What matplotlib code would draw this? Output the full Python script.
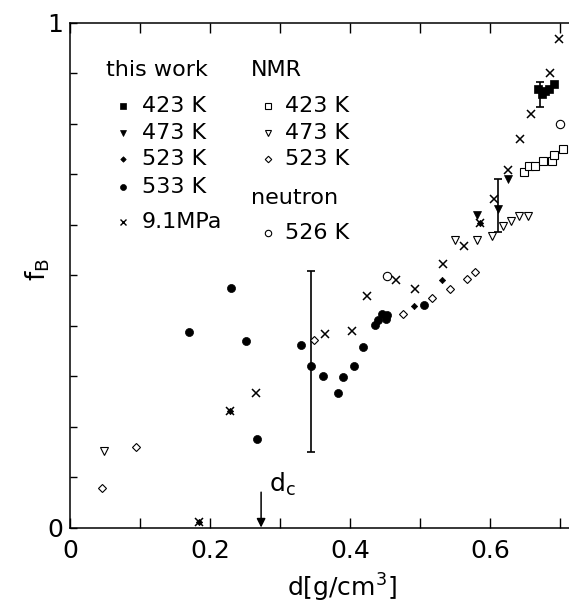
import matplotlib
matplotlib.use("Agg")
import matplotlib.pyplot as plt
import numpy as np

plt.rcParams['font.family'] = ['DejaVu Sans']
plt.rcParams['mathtext.fontset'] = 'dejavusans'

# ---------------- data ----------------
this_423_x = [0.669, 0.674, 0.679, 0.684, 0.691]
this_423_y = [0.869, 0.859, 0.865, 0.869, 0.879]
this_473_x = [0.582, 0.612, 0.626]
this_473_y = [0.619, 0.631, 0.691]
this_523_x = [0.184, 0.228, 0.492, 0.531, 0.586]
this_523_y = [0.010, 0.230, 0.439, 0.491, 0.604]
this_533_x = [0.170, 0.230, 0.252, 0.267, 0.330, 0.344, 0.361, 0.383, 0.390,
              0.406, 0.418, 0.435, 0.440, 0.445, 0.452, 0.453, 0.505]
this_533_y = [0.388, 0.474, 0.370, 0.175, 0.362, 0.321, 0.301, 0.267, 0.298,
              0.320, 0.357, 0.401, 0.411, 0.423, 0.413, 0.421, 0.442]
mpa_x = [0.184, 0.228, 0.265, 0.364, 0.403, 0.424, 0.465, 0.493, 0.533, 0.563,
         0.586, 0.606, 0.625, 0.643, 0.658, 0.685, 0.699]
mpa_y = [0.010, 0.230, 0.267, 0.384, 0.390, 0.459, 0.491, 0.472, 0.522, 0.558,
         0.604, 0.651, 0.709, 0.771, 0.819, 0.901, 0.968]
nmr_423_x = [0.649, 0.656, 0.664, 0.676, 0.688, 0.691, 0.704]
nmr_423_y = [0.705, 0.717, 0.717, 0.727, 0.727, 0.738, 0.750]
nmr_473_x = [0.049, 0.550, 0.581, 0.603, 0.619, 0.630, 0.641, 0.654]
nmr_473_y = [0.152, 0.570, 0.570, 0.578, 0.598, 0.607, 0.617, 0.617]
nmr_523_x = [0.046, 0.094, 0.349, 0.476, 0.517, 0.543, 0.567, 0.579]
nmr_523_y = [0.078, 0.160, 0.372, 0.423, 0.454, 0.473, 0.493, 0.506]
neutron_x = [0.453, 0.700]
neutron_y = [0.499, 0.799]

err_x = [0.344, 0.612, 0.672]
err_lo = [0.150, 0.586, 0.833]
err_hi = [0.508, 0.691, 0.884]

d_c = 0.273

x_ticks = [0.0, 0.1, 0.2, 0.3, 0.4, 0.5, 0.6, 0.7]
x_ticklabels = ['0', '', '0.2', '', '0.4', '', '0.6', '']
y_ticks = [0.0, 0.1, 0.2, 0.3, 0.4, 0.5, 0.6, 0.7, 0.8, 0.9, 1.0]
y_ticklabels = ['0', '', '', '', '', '', '', '', '', '', '1']

# ---------------- figure ----------------
W, H = 569, 604
fig = plt.figure(figsize=(W / 100, H / 100), dpi=100)
ax_l, ax_r, ax_t, ax_b = 70, 569, 23, 527.5
ax = fig.add_axes([ax_l / W, (H - ax_b) / H, (ax_r - ax_l) / W, (ax_b - ax_t) / H])
ax.set_xlim(0, (ax_r - ax_l) / 700)
ax.set_ylim(0, 1)

lw = 0.8
# error bars
err_c = [(a + b) / 2 for a, b in zip(err_lo, err_hi)]
err_h = [(b - a) / 2 for a, b in zip(err_lo, err_hi)]
ax.errorbar(err_x, err_c, yerr=err_h, fmt='none', ecolor='k', elinewidth=1.2,
            capsize=3, capthick=1.2, zorder=2)

ax.plot(nmr_423_x, nmr_423_y, 's', ms=5.5, mfc='white', mec='k', mew=lw, zorder=3)
ax.plot(nmr_473_x, nmr_473_y, 'v', ms=5.5, mfc='white', mec='k', mew=lw, zorder=3)
ax.plot(nmr_523_x, nmr_523_y, 'D', ms=4.2, mfc='white', mec='k', mew=lw, zorder=3)
ax.plot(neutron_x, neutron_y, 'o', ms=6, mfc='white', mec='k', mew=lw, zorder=3)
ax.plot(this_423_x, this_423_y, 's', ms=6, mfc='k', mec='k', mew=0.5, zorder=4)
ax.plot(this_473_x, this_473_y, 'v', ms=5.5, mfc='k', mec='k', mew=0.5, zorder=4)
ax.plot(this_523_x, this_523_y, 'D', ms=3.2, mfc='k', mec='k', mew=0.5, zorder=4)
ax.plot(this_533_x, this_533_y, 'o', ms=5.8, mfc='k', mec='k', mew=0.5, zorder=4)
ax.plot(mpa_x, mpa_y, 'x', ms=6, mec='k', mew=1.1, zorder=5)

# ticks and spines
tfs = 18
ax.set_xticks(x_ticks)
ax.set_xticklabels(x_ticklabels)
ax.set_yticks(y_ticks)
ax.set_yticklabels(y_ticklabels)
ax.tick_params(axis='x', direction='in', length=7.5, width=1, top=True,
               labelsize=tfs, pad=8)
ax.tick_params(axis='y', direction='in', length=5, width=1, right=False,
               labelsize=tfs, pad=5)
for s in ['left', 'bottom', 'top']:
    ax.spines[s].set_linewidth(1.1)
ax.spines['right'].set_visible(False)

ax.set_xlabel('d[g/cm$^\\mathregular{3}$]', fontsize=tfs)
ax.xaxis.set_label_coords((342 - ax_l) / (ax_r - ax_l), -(597 - ax_b) / (ax_b - ax_t))
ax.xaxis.label.set_va('baseline')
ax.set_ylabel('f$_\\mathregular{B}$', fontsize=tfs + 1)
ax.yaxis.set_label_coords((38 - ax_l) / (ax_r - ax_l), (ax_b - 270) / (ax_b - ax_t))
ax.yaxis.label.set_va('center')

# d_c arrow
ax.annotate('', xy=(d_c, 0), xytext=(d_c, 0.07),
            arrowprops=dict(arrowstyle='-|>', color='k', lw=1.1, mutation_scale=13,
                            shrinkA=0, shrinkB=0))
ax.text(d_c + 0.011, 0.07, 'd$_\\mathregular{c}$', fontsize=tfs, ha='left', va='baseline')

# legend (manual)
def fx(px):
    return (px - ax_l) / (ax_r - ax_l)

def fy(py):
    return (ax_b - py) / (ax_b - ax_t)

tr = ax.transAxes
lfs = 16
ax.text(fx(106), fy(70), 'this work', fontsize=lfs, ha='left', va='center', transform=tr)
ax.text(fx(251), fy(70), 'NMR', fontsize=lfs, ha='left', va='center', transform=tr)
ax.text(fx(251), fy(198), 'neutron', fontsize=lfs, ha='left', va='center', transform=tr)

col1 = [('s', 'k', 4.3, '423 K', 106), ('v', 'k', 4.0, '473 K', 133),
        ('D', 'k', 2.8, '523 K', 159), ('o', 'k', 4.3, '533 K', 187),
        ('x', None, 4.3, '9.1MPa', 222)]
for m, fc, ms, lab, py in col1:
    if m == 'x':
        ax.plot([fx(123)], [fy(py)], 'x', ms=ms, mec='k', mew=1.0, transform=tr, clip_on=False)
    else:
        ax.plot([fx(123)], [fy(py)], m, ms=ms, mfc=fc, mec='k', mew=0.5, transform=tr, clip_on=False)
    ax.text(fx(142), fy(py), lab, fontsize=lfs, ha='left', va='center', transform=tr)

col2 = [('s', 4.3, '423 K', 106), ('v', 4.3, '473 K', 133),
        ('D', 3.3, '523 K', 159), ('o', 4.6, '526 K', 233)]
for m, ms, lab, py in col2:
    ax.plot([fx(268)], [fy(py)], m, ms=ms, mfc='white', mec='k', mew=0.8, transform=tr, clip_on=False)
    ax.text(fx(285), fy(py), lab, fontsize=lfs, ha='left', va='center', transform=tr)

fig.savefig('out.png', dpi=100)
